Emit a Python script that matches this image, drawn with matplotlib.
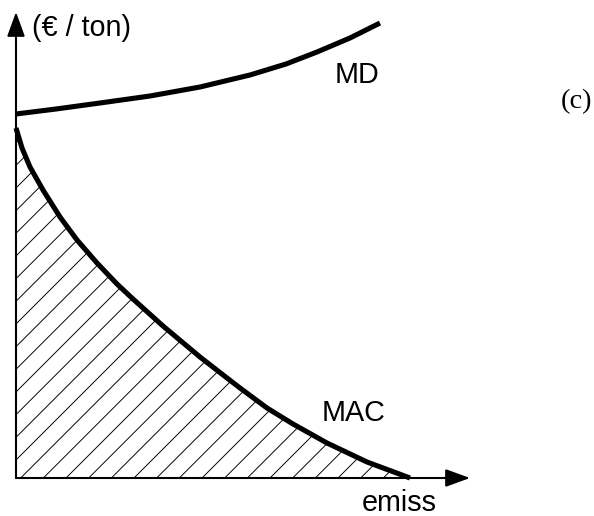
import matplotlib
matplotlib.use("Agg")
import matplotlib.pyplot as plt

# Data (arbitrary units: origin at the axes corner)
mac_x = [0, 6, 14, 27, 44, 61, 81, 101, 117, 147, 184, 211, 224, 251, 277, 311, 351, 394]
mac_y = [350, 330, 311, 288, 261, 238, 215, 194, 179, 152, 121, 100, 90, 70, 54, 35, 16, 0]

md_x = [0, 40, 84, 134, 184, 234, 270, 301, 334, 364]
md_y = [364, 369, 375, 382, 391, 403, 414, 426, 440, 455]

y_label = "(€ / ton)"
x_label = "emiss"
panel = "(c)"

plt.rcParams['font.family'] = ['Liberation Sans', 'DejaVu Sans']
plt.rcParams['hatch.linewidth'] = 0.5

# Plot ----------------------------------------------------------------------
fig = plt.figure(figsize=(594/136, 516/136), dpi=136)
ax = fig.add_axes([0, 0, 1, 1])
ax.set_xlim(-16, 578)
ax.set_ylim(-38, 478)
ax.axis("off")

# hatched area under MAC
ax.fill_between(mac_x, mac_y, 0, facecolor="none", edgecolor="k",
                hatch="//", linewidth=0)

ax.plot(mac_x, mac_y, color="k", lw=2.7, solid_capstyle="butt", solid_joinstyle="round")
ax.plot(md_x, md_y, color="k", lw=2.7, solid_capstyle="butt", solid_joinstyle="round")

# axes with arrow heads
arrow = dict(arrowstyle="-|>,head_length=0.55,head_width=0.2",
             mutation_scale=20, lw=1.1, color="k", shrinkA=0, shrinkB=0)
ax.annotate("", xy=(0, 466), xytext=(0, 0), arrowprops=arrow)
ax.annotate("", xy=(454, 0), xytext=(0, 0), arrowprops=arrow)

ax.text(16, 442, y_label, fontsize=15.2, ha="left", va="baseline")
ax.text(346, -33, x_label, fontsize=15.2, ha="left", va="baseline")
ax.text(319, 395, "MD", fontsize=15.2, ha="left", va="baseline")
ax.text(306, 57, "MAC", fontsize=15.2, ha="left", va="baseline")
ax.text(561, 370, panel, fontsize=15, ha="center", va="baseline",
        family=["Liberation Serif", "DejaVu Serif"])

fig.savefig("out.png", dpi=136)
